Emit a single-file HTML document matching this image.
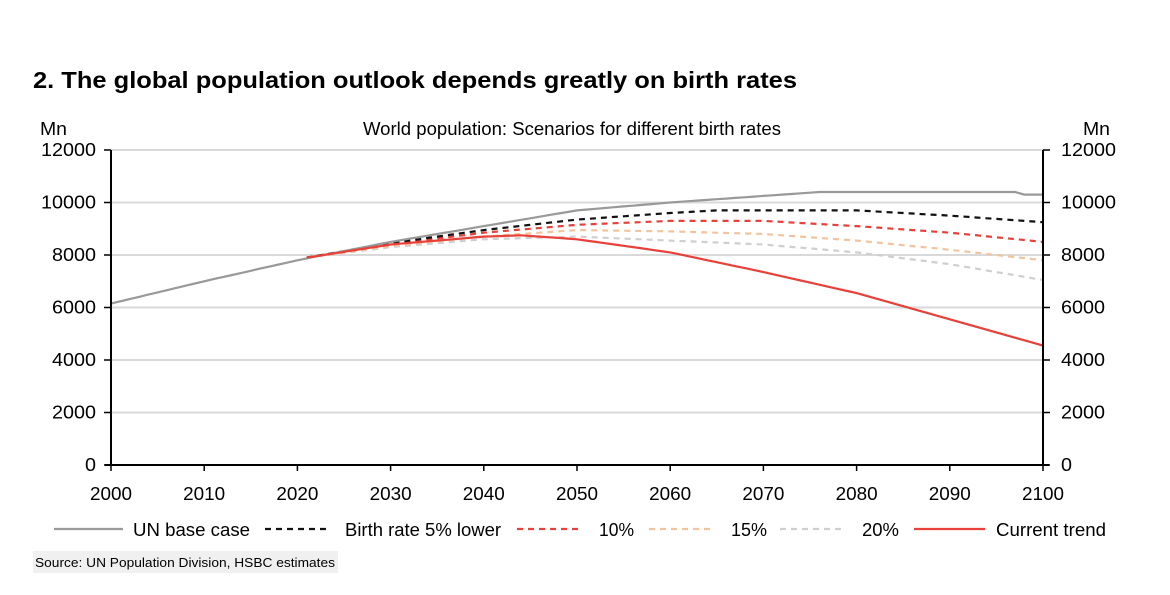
<!DOCTYPE html>
<html><head><meta charset="utf-8"><style>
html,body{margin:0;padding:0;background:#fff;width:1170px;height:595px;overflow:hidden}
svg{display:block;font-family:"Liberation Sans",Arial,sans-serif}
</style></head><body>
<svg id="s" width="1170" height="595" xmlns="http://www.w3.org/2000/svg">
<text x="33" y="88" font-size="23" font-weight="bold" fill="#000" textLength="764" lengthAdjust="spacingAndGlyphs">2. The global population outlook depends greatly on birth rates</text>
<text x="40" y="135" font-size="18" fill="#000" textLength="27" lengthAdjust="spacingAndGlyphs">Mn</text>
<text x="1083" y="135" font-size="18" fill="#000" textLength="27" lengthAdjust="spacingAndGlyphs">Mn</text>
<text x="363" y="135" font-size="18" fill="#000" textLength="418" lengthAdjust="spacingAndGlyphs">World population: Scenarios for different birth rates</text>
<g id="grid"></g>
<g id="lines"></g>
<g id="axes"></g>
<g id="legend"></g>
<rect x="33" y="551" width="305" height="22" fill="#f0f0f0"/>
<text x="35" y="567" font-size="13" fill="#000" textLength="300" lengthAdjust="spacingAndGlyphs">Source: UN Population Division, HSBC estimates</text>
</svg>
<script>
const NS="http://www.w3.org/2000/svg";
function el(p,t,a,txt){const e=document.createElementNS(NS,t);for(const k in a)e.setAttribute(k,a[k]);if(txt!=null)e.textContent=txt;document.getElementById(p).appendChild(e);return e;}
const X=y=>111+(y-2000)*9.32, Y=v=>465-v*0.02625;
for(let v=2000;v<=12000;v+=2000){el("grid","line",{x1:111,x2:1043,y1:Y(v),y2:Y(v),stroke:"#d9d9d9","stroke-width":2});}
el("axes","line",{x1:111,x2:111,y1:150,y2:466,stroke:"#000","stroke-width":2});
el("axes","line",{x1:1043,x2:1043,y1:150,y2:466,stroke:"#000","stroke-width":2});
el("axes","line",{x1:105,x2:1049,y1:465,y2:465,stroke:"#000","stroke-width":2});
for(let v=0;v<=12000;v+=2000){const y=Y(v);const s=String(v);const w=s.length*11;
 el("axes","line",{x1:104,x2:111,y1:y,y2:y,stroke:"#000","stroke-width":1.5});
 el("axes","line",{x1:1043,x2:1050,y1:y,y2:y,stroke:"#000","stroke-width":1.5});
 el("axes","text",{x:96-w,y:y+6,"font-size":18,textLength:w,lengthAdjust:"spacingAndGlyphs"},s);
 el("axes","text",{x:1061,y:y+6,"font-size":18,textLength:w,lengthAdjust:"spacingAndGlyphs"},s);}
for(let yr=2000;yr<=2100;yr+=10){const x=X(yr);
 el("axes","line",{x1:x,x2:x,y1:465,y2:471,stroke:"#000","stroke-width":1.5});
 el("axes","text",{x:x-21,y:500,"font-size":18,textLength:42,lengthAdjust:"spacingAndGlyphs"},String(yr));}
function interp(k){const pts=[];for(let i=0;i<k.length-1;i++){const[a,va]=k[i],[b,vb]=k[i+1];for(let yr=a;yr<b;yr++){pts.push([yr,va+(vb-va)*(yr-a)/(b-a)]);}}pts.push(k[k.length-1]);return pts.map(p=>X(p[0]).toFixed(1)+","+Y(p[1]).toFixed(1)).join(" ");}
const S=[
 {k:[[2000,6150],[2010,7000],[2020,7800],[2030,8500],[2040,9100],[2050,9700],[2060,10000],[2070,10250],[2076,10400],[2097,10400],[2098,10300],[2100,10300]],c:"#999",d:null},
 {k:[[2021,7900],[2030,8450],[2040,8950],[2050,9350],[2060,9600],[2065,9700],[2080,9700],[2090,9500],[2100,9250]],c:"#111",d:"6 5"},
 {k:[[2021,7900],[2030,8400],[2040,8850],[2050,9150],[2060,9300],[2070,9300],[2080,9100],[2090,8850],[2100,8500]],c:"#e8413a",d:"6 5"},
 {k:[[2021,7900],[2030,8350],[2040,8700],[2050,8950],[2060,8900],[2070,8800],[2080,8550],[2090,8200],[2100,7800]],c:"#f2c49c",d:"6 5"},
 {k:[[2021,7900],[2030,8300],[2040,8600],[2050,8700],[2060,8550],[2070,8400],[2080,8100],[2090,7650],[2100,7050]],c:"#cfcfcf",d:"6 5"},
 {k:[[2021,7900],[2030,8400],[2040,8700],[2044,8750],[2050,8600],[2055,8350],[2060,8100],[2070,7350],[2080,6550],[2090,5550],[2100,4550]],c:"#e8413a",d:null}
];
[4,3,2,1,0,5].forEach(i=>{const s=S[i];const a={points:interp(s.k),fill:"none",stroke:s.c,"stroke-width":2.2};if(s.d)a["stroke-dasharray"]=s.d;el("lines","polyline",a);});
const L=[[54,123,133,117,"UN base case",0],[265,330,345,156,"Birth rate 5% lower",1],[517,582,599,35,"10%",2],[649,713,731,36,"15%",3],[780,845,862,37,"20%",4],[914,985,996,110,"Current trend",5]];
L.forEach(([x1,x2,tx,tw,t,i])=>{const s=S[i];const a={x1:x1,x2:x2,y1:529,y2:529,stroke:s.c,"stroke-width":2.2};if(s.d)a["stroke-dasharray"]=s.d;el("legend","line",a);el("legend","text",{x:tx,y:536,"font-size":18,textLength:tw,lengthAdjust:"spacingAndGlyphs"},t);});
</script>
</body></html>
